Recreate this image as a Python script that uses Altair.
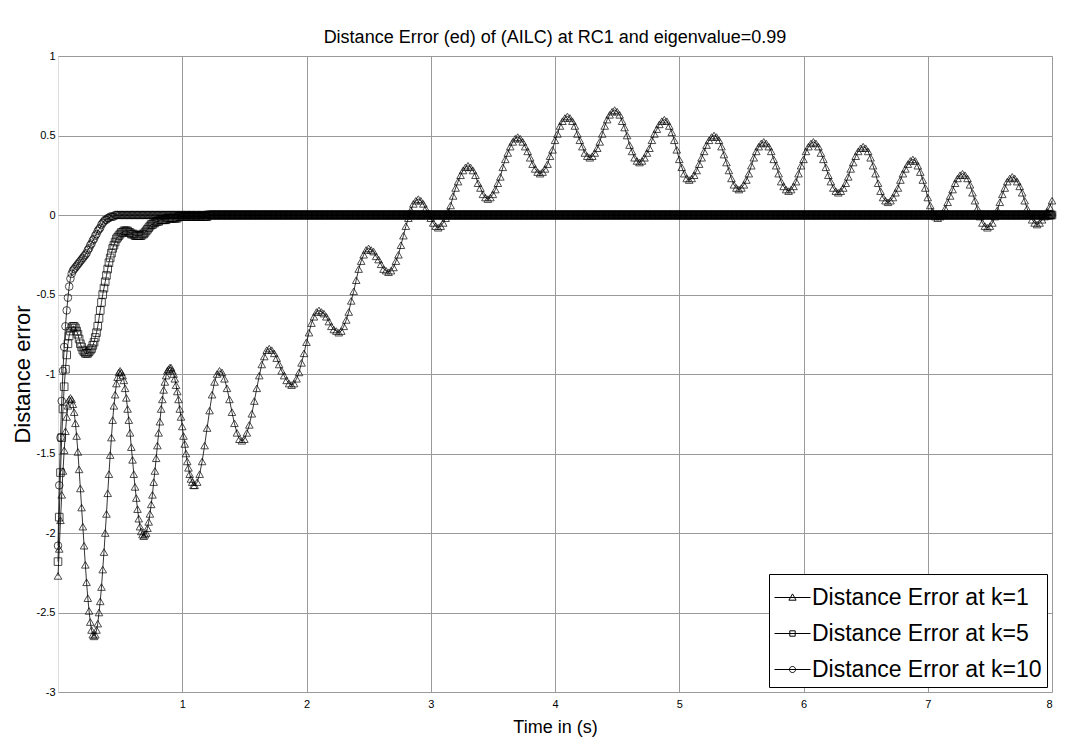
import altair as alt
import pandas as pd

# ---------------- data ----------------
series_names = ["Distance Error at k=1", "Distance Error at k=5", "Distance Error at k=10"]

# sample times: 0.00..1.10 every 0.01 s; k=1 then 1.12..8.00 every 0.02 s,
# k=5 / k=10 (flat at zero) 1.11..8.00 every 0.01 s
t_early = [round(i * 0.01, 2) for i in range(111)]
t_late_k1 = [round(1.12 + i * 0.02, 2) for i in range(345)]
t_late_flat = [round(1.11 + i * 0.01, 2) for i in range(690)]

k1_early = [
    -2.27, -2.10, -1.92, -1.76, -1.61, -1.48, -1.36, -1.27, -1.20, -1.16, -1.15,
    -1.16, -1.19, -1.24, -1.31, -1.39, -1.49, -1.60, -1.72, -1.84, -1.96, -2.08, -2.20, -2.31, -2.41, -2.49, -2.56, -2.61, -2.64, -2.65,
    -2.64, -2.61, -2.57, -2.50, -2.43, -2.34, -2.23, -2.12, -2.00, -1.88, -1.75, -1.63, -1.51, -1.40, -1.29, -1.20, -1.13, -1.06, -1.02, -0.99, -0.98,
    -0.99, -1.01, -1.04, -1.09, -1.15, -1.22, -1.29, -1.37, -1.46, -1.54, -1.63, -1.71, -1.78, -1.85, -1.91, -1.96, -1.99, -2.01, -2.02,
    -2.01, -2.00, -1.97, -1.93, -1.88, -1.82, -1.76, -1.68, -1.61, -1.53, -1.45, -1.37, -1.30, -1.22, -1.16, -1.10, -1.05, -1.01, -0.98, -0.97, -0.96,
    -0.96, -0.98, -1.00, -1.03, -1.07, -1.11, -1.16, -1.22, -1.27, -1.33, -1.39, -1.44, -1.50, -1.55, -1.59, -1.63, -1.66, -1.68, -1.70, -1.70,
]
k1_late = [
    -1.68, -1.63, -1.55, -1.45, -1.34, -1.23, -1.13, -1.05, -1.00, -0.98,
    -0.99, -1.03, -1.09, -1.16, -1.24, -1.31, -1.37, -1.41, -1.42,
    -1.41, -1.37, -1.32, -1.25, -1.17, -1.09, -1.01, -0.94, -0.89, -0.85, -0.84,
    -0.85, -0.87, -0.90, -0.94, -0.98, -1.01, -1.04, -1.06, -1.07,
    -1.06, -1.03, -0.99, -0.93, -0.87, -0.80, -0.74, -0.68, -0.64, -0.61, -0.60,
    -0.61, -0.62, -0.64, -0.67, -0.70, -0.72, -0.73, -0.74,
    -0.73, -0.70, -0.66, -0.61, -0.54, -0.48, -0.41, -0.34, -0.29, -0.25, -0.22, -0.21,
    -0.22, -0.23, -0.26, -0.28, -0.31, -0.34, -0.35, -0.36,
    -0.35, -0.33, -0.29, -0.25, -0.19, -0.13, -0.07, -0.02, 0.03, 0.07, 0.09, 0.10,
    0.09, 0.07, 0.04, 0.01, -0.02, -0.05, -0.07, -0.08,
    -0.07, -0.05, -0.02, 0.02, 0.06, 0.12, 0.17, 0.21, 0.25, 0.28, 0.30, 0.31,
    0.30, 0.28, 0.25, 0.20, 0.17, 0.13, 0.11, 0.10,
    0.11, 0.13, 0.16, 0.20, 0.24, 0.30, 0.35, 0.39, 0.43, 0.46, 0.48, 0.49,
    0.48, 0.46, 0.43, 0.40, 0.36, 0.32, 0.29, 0.27, 0.26,
    0.27, 0.29, 0.32, 0.37, 0.41, 0.47, 0.51, 0.56, 0.59, 0.61, 0.62,
    0.61, 0.59, 0.56, 0.51, 0.47, 0.43, 0.39, 0.37, 0.36,
    0.37, 0.39, 0.42, 0.46, 0.51, 0.56, 0.60, 0.63, 0.65, 0.66,
    0.65, 0.63, 0.59, 0.55, 0.50, 0.44, 0.40, 0.36, 0.34, 0.33,
    0.34, 0.36, 0.39, 0.42, 0.47, 0.51, 0.54, 0.57, 0.59, 0.60,
    0.59, 0.56, 0.52, 0.47, 0.41, 0.35, 0.30, 0.26, 0.23, 0.22,
    0.23, 0.25, 0.28, 0.32, 0.36, 0.40, 0.44, 0.47, 0.49, 0.50,
    0.49, 0.47, 0.43, 0.38, 0.33, 0.28, 0.23, 0.19, 0.17, 0.16,
    0.17, 0.19, 0.22, 0.26, 0.31, 0.36, 0.40, 0.43, 0.45, 0.46,
    0.45, 0.43, 0.40, 0.35, 0.31, 0.26, 0.21, 0.18, 0.16, 0.15,
    0.16, 0.18, 0.21, 0.26, 0.31, 0.35, 0.40, 0.43, 0.45, 0.46,
    0.45, 0.43, 0.39, 0.35, 0.30, 0.25, 0.21, 0.17, 0.15, 0.14,
    0.15, 0.17, 0.20, 0.24, 0.29, 0.33, 0.37, 0.40, 0.42, 0.43,
    0.42, 0.40, 0.36, 0.31, 0.26, 0.20, 0.15, 0.11, 0.09, 0.08,
    0.09, 0.11, 0.14, 0.17, 0.22, 0.26, 0.29, 0.32, 0.34, 0.35,
    0.34, 0.31, 0.27, 0.22, 0.17, 0.11, 0.06, 0.02, -0.01, -0.02,
    -0.01, 0.01, 0.04, 0.08, 0.12, 0.16, 0.20, 0.23, 0.25, 0.26,
    0.25, 0.23, 0.19, 0.14, 0.09, 0.04, -0.01, -0.05, -0.07, -0.08,
    -0.07, -0.05, -0.01, 0.03, 0.08, 0.13, 0.17, 0.21, 0.23, 0.24,
    0.23, 0.21, 0.18, 0.14, 0.09, 0.04, 0.00, -0.03, -0.05, -0.06,
    -0.05, -0.03, -0.01, 0.02, 0.05, 0.09,
]

k5_early = [
    -2.18, -1.90, -1.62, -1.40, -1.22, -1.08, -0.97, -0.88, -0.81, -0.76,
    -0.73, -0.71, -0.70, -0.70, -0.71, -0.73, -0.75, -0.78, -0.81, -0.83,
    -0.85, -0.86, -0.87, -0.87, -0.87, -0.86, -0.85, -0.84, -0.82, -0.80,
    -0.77, -0.74, -0.70, -0.65, -0.60, -0.55, -0.50, -0.46, -0.42, -0.38,
    -0.34, -0.30, -0.27, -0.24, -0.21, -0.19, -0.17, -0.15, -0.14, -0.13,
    -0.12, -0.11, -0.11, -0.10, -0.10, -0.10, -0.10, -0.11, -0.11, -0.12,
    -0.12, -0.12, -0.13, -0.13, -0.13, -0.13, -0.13, -0.13, -0.12, -0.12,
    -0.11, -0.10, -0.09, -0.08, -0.07, -0.06, -0.06, -0.05, -0.05, -0.04,
    -0.04, -0.04, -0.03, -0.03, -0.03, -0.03, -0.03, -0.03, -0.02, -0.02,
    -0.02, -0.02, -0.02, -0.02, -0.02, -0.02, -0.02, -0.01, -0.01, -0.01,
    -0.01, -0.01, -0.01, -0.01, -0.01, -0.01, -0.01, -0.01, -0.01, -0.01,
    -0.01,
]
k5_late = [-0.01] * 10 + [0.0] * 680

k10_early = [
    -2.08, -1.70, -1.40, -1.17, -0.98, -0.83, -0.70, -0.60, -0.52, -0.45,
    -0.40, -0.37, -0.35, -0.34, -0.33, -0.32, -0.31, -0.30, -0.29, -0.28,
    -0.27, -0.26, -0.25, -0.24, -0.22, -0.21, -0.19, -0.18, -0.16, -0.15,
    -0.13, -0.12, -0.10, -0.09, -0.08, -0.06, -0.05, -0.04, -0.03, -0.03,
    -0.02, -0.02, -0.01, -0.01, -0.01, -0.01,
] + [0.0] * 65
k10_late = [0.0] * 690

x_ticks = [1, 2, 3, 4, 5, 6, 7, 8]
y_ticks = [-3, -2.5, -2, -1.5, -1, -0.5, 0, 0.5, 1]

# ---------------- table ----------------
rows = []
for name, times, vals in zip(
    series_names,
    [t_early + t_late_k1, t_early + t_late_flat, t_early + t_late_flat],
    [k1_early + k1_late, k5_early + k5_late, k10_early + k10_late],
):
    for t, v in zip(times, vals):
        rows.append({"t": t, "value": v, "series": name})
df = pd.DataFrame(rows)

FONT = "Liberation Sans"

x_enc = alt.X("t:Q", scale=alt.Scale(domain=[0, 8], nice=False),
              axis=alt.Axis(values=x_ticks, title="Time in (s)", grid=True, ticks=False,
                            domain=False, labelExpr="datum.value + ''", labelFontSize=11,
                            labelPadding=6, titleFontSize=18, titleFontWeight="normal",
                            titlePadding=9, labelFont=FONT, titleFont=FONT,
                            labelColor="black", titleColor="black",
                            gridColor="#9a9a9a", gridWidth=1))
y_enc = alt.Y("value:Q", scale=alt.Scale(domain=[-3, 1], nice=False),
              axis=alt.Axis(values=y_ticks, title="Distance error", grid=True, ticks=False,
                            domain=False, labelExpr="datum.value + ''", labelFontSize=11,
                            labelPadding=3, titleFontSize=22, titleFontWeight="normal",
                            titleX=-36, titleY=318, titleAngle=270, titleAlign="center",
                            titleBaseline="middle", labelFont=FONT, titleFont=FONT,
                            labelColor="black", titleColor="black",
                            gridColor="#9a9a9a", gridWidth=1))

base = alt.Chart(df)

lines = base.mark_line(color="black", strokeWidth=0.8).encode(
    x=x_enc, y=y_enc, detail="series:N", order="t:Q"
)

points = base.mark_point(filled=False, color="black", strokeWidth=1.0, size=58).encode(
    x="t:Q", y="value:Q",
    shape=alt.Shape("series:N", scale=alt.Scale(domain=series_names,
                                                range=["triangle-up", "square", "circle"]),
                    legend=None),
)

legend_paths = [
    "M-1,0H1M0,-0.2L0.2,0.15L-0.2,0.15Z",
    "M-1,0H1M-0.15,-0.15H0.15V0.15H-0.15Z",
    "M-1,0H1M0.17,0A0.17,0.17 0 1,1 -0.17,0A0.17,0.17 0 1,1 0.17,0Z",
]

legend_layer = base.transform_filter("datum.t == 0").mark_point(
    filled=False, color="black", strokeWidth=1, opacity=0
).encode(
    x="t:Q", y="value:Q",
    shape=alt.Shape("series:N", scale=alt.Scale(domain=series_names, range=legend_paths),
                    legend=alt.Legend(title=None, orient="bottom-right", offset=5,
                                      fillColor="white", strokeColor="black", padding=5,
                                      labelFontSize=23, labelFont=FONT, labelColor="black",
                                      symbolSize=1296, symbolStrokeWidth=1,
                                      symbolStrokeColor="black", symbolOpacity=1,
                                      labelOffset=1, rowPadding=5, labelLimit=400)),
)

chart = alt.layer(lines, points, legend_layer).resolve_scale(shape="independent").properties(
    width=994, height=636,
    title=alt.Title("Distance Error (ed) of (AILC) at RC1 and eigenvalue=0.99",
                    fontSize=18, fontWeight="normal", font=FONT, color="black",
                    offset=3, anchor="middle"),
    autosize=alt.AutoSizeParams(type="none"),
    padding={"left": 50, "top": 48, "right": 10, "bottom": 47},
).configure_view(stroke="black", strokeWidth=1.3).configure(background="white")

chart.save("out.html", embed_options={"renderer": "svg", "actions": False})
